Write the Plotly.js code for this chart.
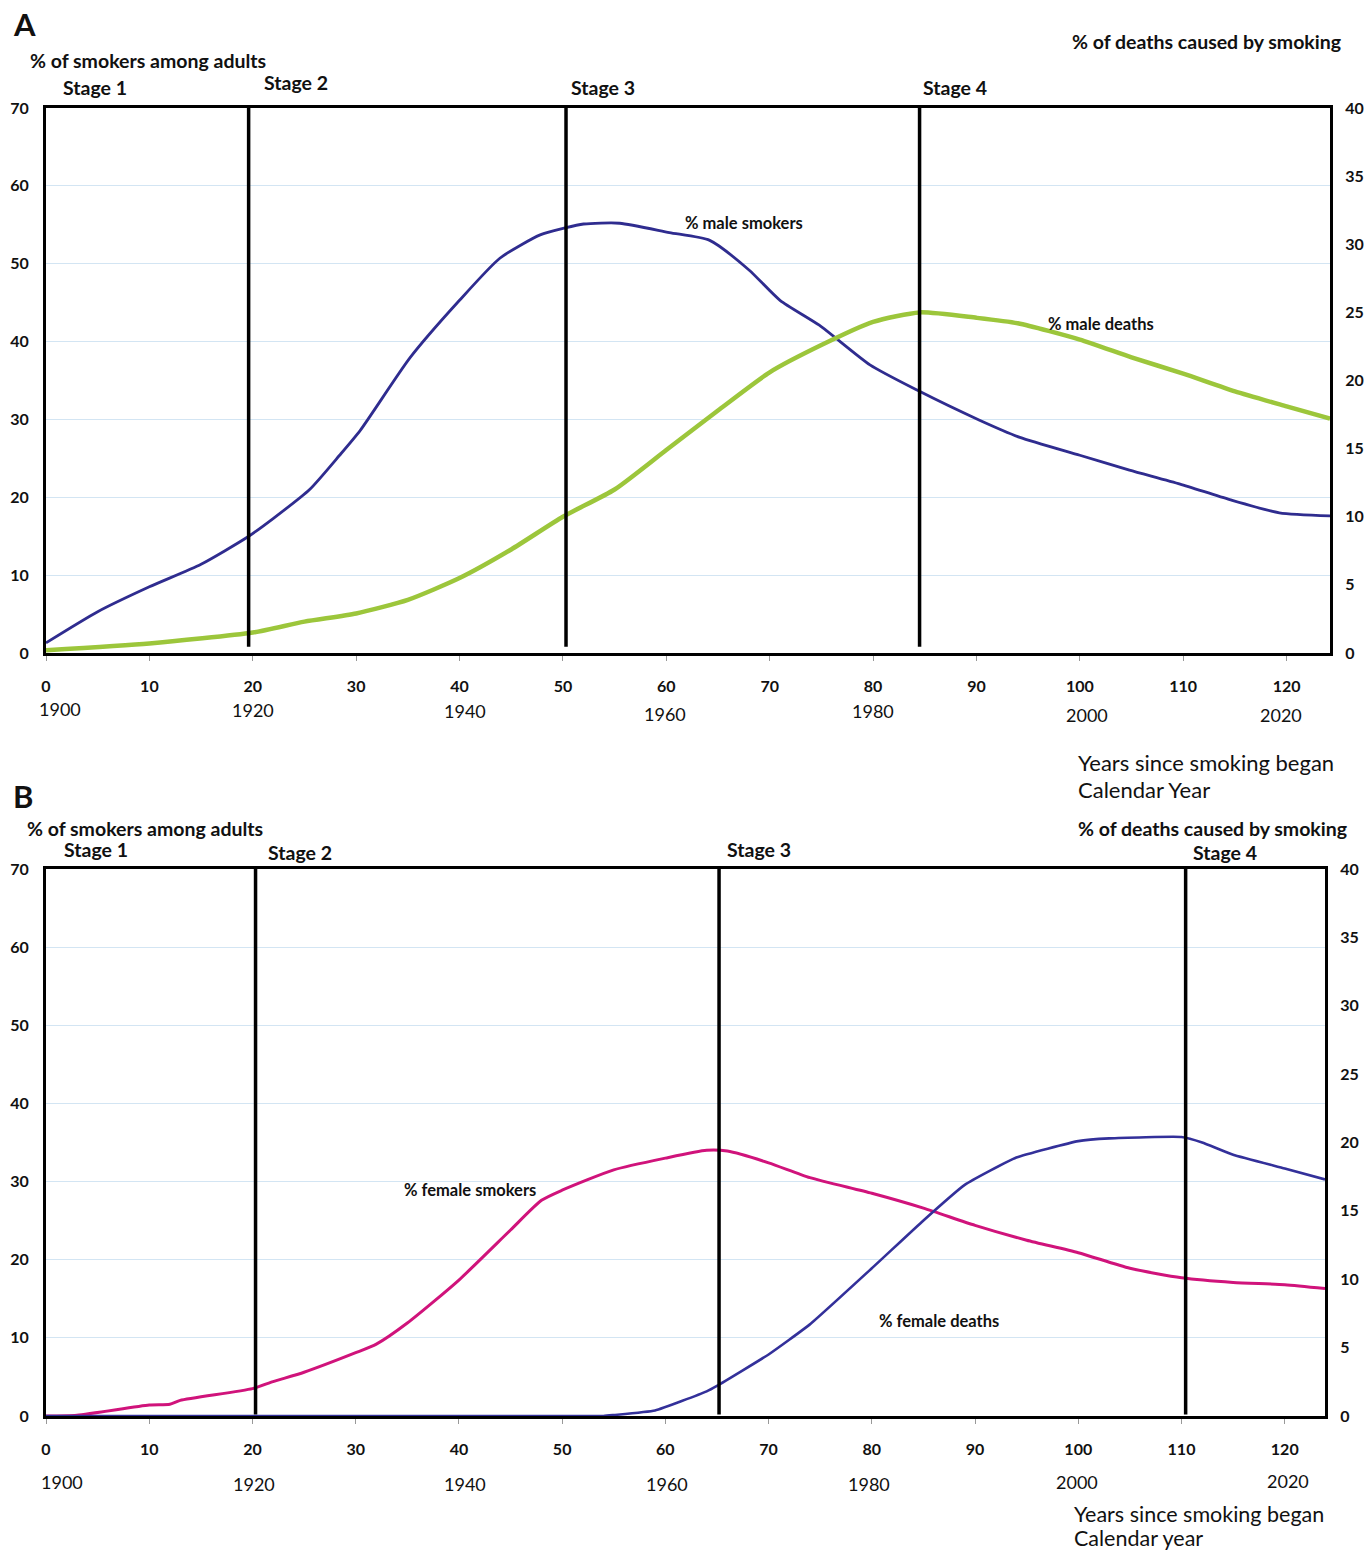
<!DOCTYPE html>
<html><head><meta charset="utf-8">
<script src="https://cdn.plot.ly/plotly-3.0.1.min.js"></script>
<style>body{margin:0;background:#fff}#chart{width:1368px;height:1555px}</style>
</head><body><div id="chart"></div>
<script>
// ---- data ----
const maleSmokeX = [0,5,10,15,19.5,22,25.5,28.4,30.4,35.2,40,43.9,47.8,50.2,52,55.5,60.3,64.2,68,71,74.8,79.7,84.2,90.3,94.2,100,104.8,109.7,114.5,119.3,124.2];
const maleSmokeY = [1.3,5.3,8.5,11.4,14.9,17.3,21,25.4,28.6,37.9,45.3,50.7,53.7,54.6,55.1,55.2,54,53,49.2,45.3,42.1,37,33.8,29.9,27.7,25.4,23.5,21.7,19.7,18,17.6];
const maleDeathX = [0,10,20,25,30,35,40,45,50,55,60,65,70,75,80,84.5,90,94,100,105,110,115,120,124.2];
const maleDeathY = [0.2,0.7,1.5,2.3,2.9,3.9,5.5,7.6,10,12,14.9,17.8,20.6,22.6,24.3,25.0,24.6,24.2,23,21.7,20.5,19.2,18.1,17.2];
const femSmokeX = [0,3,10,12,13,20,22,25,30,32,35,40,45,48,50,55,60,64,66,70,74,80,85,90,95,100,105,110,115,120,123.9];
const femSmokeY = [0,0.1,1.4,1.5,2.0,3.5,4.4,5.6,8.1,9.2,11.9,17.4,23.8,27.6,28.9,31.5,33.0,34,33.9,32.4,30.5,28.5,26.6,24.4,22.5,20.9,18.9,17.7,17.1,16.8,16.3];
const femDeathX = [0,54,55,59,64,65,70,74,80,85,89,94,100,103,110,112,115,120,123.9];
const femDeathY = [0,0,0.07,0.4,1.8,2.2,4.5,6.7,10.8,14.3,16.9,18.9,20.1,20.3,20.4,20.0,19.1,18.1,17.3];
const stagesA = [19.6, 50.3, 84.5];
const stagesB = [20.3, 65.2, 110.4];
const stageNames = ['Stage 1','Stage 2','Stage 3','Stage 4'];
const xTicks = [0,10,20,30,40,50,60,70,80,90,100,110,120];
const calendarYears = [1900,1920,1940,1960,1980,2000,2020];

// ---- layout helpers ----
const W = 1368, H = 1555, ML = 46, MR = 38, PW = W - ML - MR;
const px = p => (p - ML) / PW;
const py = p => 1 - p / H;
const FONT = 'Lato, "Open Sans", sans-serif';
const tickFont = {family: FONT, size: 16, color: '#111', weight: 'bold'};
const headFont = {family: FONT, size: 19.5, color: '#111', weight: 'bold'};
const lblFont = {family: FONT, size: 16.5, color: '#111', weight: 'bold'};
const capFont = {family: FONT, size: 22, color: '#111'};
const capFontB = {family: FONT, size: 21.5, color: '#111'};

const traces = [
  {x: maleSmokeX, y: maleSmokeY, xaxis: 'x', yaxis: 'y', mode: 'lines', line: {color: '#2f2c8f', width: 2.8, shape: 'spline', smoothing: 0.6}},
  {x: maleDeathX, y: maleDeathY, xaxis: 'x', yaxis: 'y2', mode: 'lines', line: {color: '#9cc63b', width: 4.5, shape: 'spline', smoothing: 0.6}},
  {x: femSmokeX, y: femSmokeY, xaxis: 'x2', yaxis: 'y3', mode: 'lines', line: {color: '#d0137b', width: 3, shape: 'spline', smoothing: 0.6}},
  {x: femDeathX, y: femDeathY, xaxis: 'x2', yaxis: 'y4', mode: 'lines', line: {color: '#33309a', width: 2.6, shape: 'spline', smoothing: 0.4}}
];

const xAx = (domEnd, rng, anchor) => ({
  domain: [0, domEnd], range: rng, anchor: anchor, tickvals: xTicks, ticks: 'outside', ticklen: 5, tickcolor: '#999',
  ticklabelstandoff: 12, tickfont: tickFont, showline: true, linewidth: 3, linecolor: '#000', mirror: true,
  showgrid: false, zeroline: false
});
const yLeft = (dom, anchor) => ({
  domain: dom, range: [0, 70], dtick: 10, anchor: anchor, showline: true, linewidth: 3, linecolor: '#000',
  gridcolor: '#d3e5f3', gridwidth: 1, zeroline: false, tickfont: tickFont, ticks: '', ticklabelstandoff: 11
});
const yRight = (over, anchor) => ({
  overlaying: over, side: 'right', anchor: anchor, range: [0, 40], dtick: 5, showline: true, linewidth: 3,
  linecolor: '#000', showgrid: false, zeroline: false, tickfont: tickFont, ticks: '', ticklabelstandoff: 9
});

const domA = [py(653), py(108)];
const domB = [py(1416), py(869)];
const bEnd = (1325 - ML) / PW;

const shapes = [];
stagesA.forEach(s => shapes.push({type: 'line', xref: 'x', yref: 'y', x0: s, x1: s, y0: 0.8, y1: 70, line: {color: '#000', width: 3.5}}));
stagesB.forEach(s => shapes.push({type: 'line', xref: 'x2', yref: 'y3', x0: s, x1: s, y0: 0.2, y1: 70, line: {color: '#000', width: 3.5}}));

const ann = [];
const txt = (text, x, y, o) => ann.push(Object.assign({text: text, xref: 'paper', yref: 'paper', x: px(x), y: py(y), showarrow: false,
  xanchor: 'left', yanchor: 'middle', font: headFont}, o || {}));
// panel A texts
txt('A', 11, 24, {font: {family: FONT, size: 31, color: '#111', weight: 'bold'}});
txt('% of smokers among adults', 28, 60);
txt('% of deaths caused by smoking', 1343, 41, {xanchor: 'right'});
txt(stageNames[0], 61, 88); txt(stageNames[1], 262, 82); txt(stageNames[2], 569, 88); txt(stageNames[3], 921, 88);
txt('% male smokers', 744, 223, {xanchor: 'center', font: lblFont});
txt('% male deaths', 1101, 324, {xanchor: 'center', font: lblFont});
txt('Years since smoking began', 1076, 762, {font: capFont});
txt('Calendar Year', 1076, 789, {font: capFont});
// panel B texts
txt('B', 11, 796, {font: {family: FONT, size: 31, color: '#111', weight: 'bold'}});
txt('% of smokers among adults', 25, 828);
txt('% of deaths caused by smoking', 1349, 828, {xanchor: 'right'});
txt(stageNames[0], 62, 849); txt(stageNames[1], 266, 852); txt(stageNames[2], 725, 849); txt(stageNames[3], 1191, 852);
txt('% female smokers', 470, 1190, {xanchor: 'center', font: lblFont});
txt('% female deaths', 939, 1321, {xanchor: 'center', font: lblFont});
txt('Years since smoking began', 1072, 1514, {font: capFontB});
txt('Calendar year', 1072, 1538, {font: capFontB});

// calendar-year labels under the x axes
const calA = [709, 710, 711, 714, 711, 715, 715];
const calB = [1482, 1484, 1484, 1484, 1484, 1482, 1481];
const shiftA = [14, 0, 5, -1, 0, 7, -6];
const shiftB = [16, 2, 6, 2, -3, -1, 3];
calendarYears.forEach((yr, i) => {
  ann.push({text: String(yr), xref: 'x', yref: 'paper', x: yr - 1900, y: py(calA[i]), xshift: shiftA[i], showarrow: false,
    yanchor: 'middle', font: {family: FONT, size: 18, color: '#111'}});
  ann.push({text: String(yr), xref: 'x2', yref: 'paper', x: yr - 1900, y: py(calB[i]), xshift: shiftB[i], showarrow: false,
    yanchor: 'middle', font: {family: FONT, size: 18, color: '#111'}});
});

const layout = {
  width: W, height: H, margin: {l: ML, r: MR, t: 0, b: 0}, showlegend: false,
  paper_bgcolor: '#fff', plot_bgcolor: '#fff', font: {family: FONT},
  xaxis: xAx(1, [0, 124.2], 'y'),
  yaxis: yLeft(domA, 'x'),
  yaxis2: yRight('y', 'x'),
  xaxis2: xAx(bEnd, [0, 123.9], 'y3'),
  yaxis3: yLeft(domB, 'x2'),
  yaxis4: yRight('y3', 'x2'),
  shapes: shapes, annotations: ann
};
Plotly.newPlot('chart', traces, layout, {staticPlot: true});
</script></body></html>
